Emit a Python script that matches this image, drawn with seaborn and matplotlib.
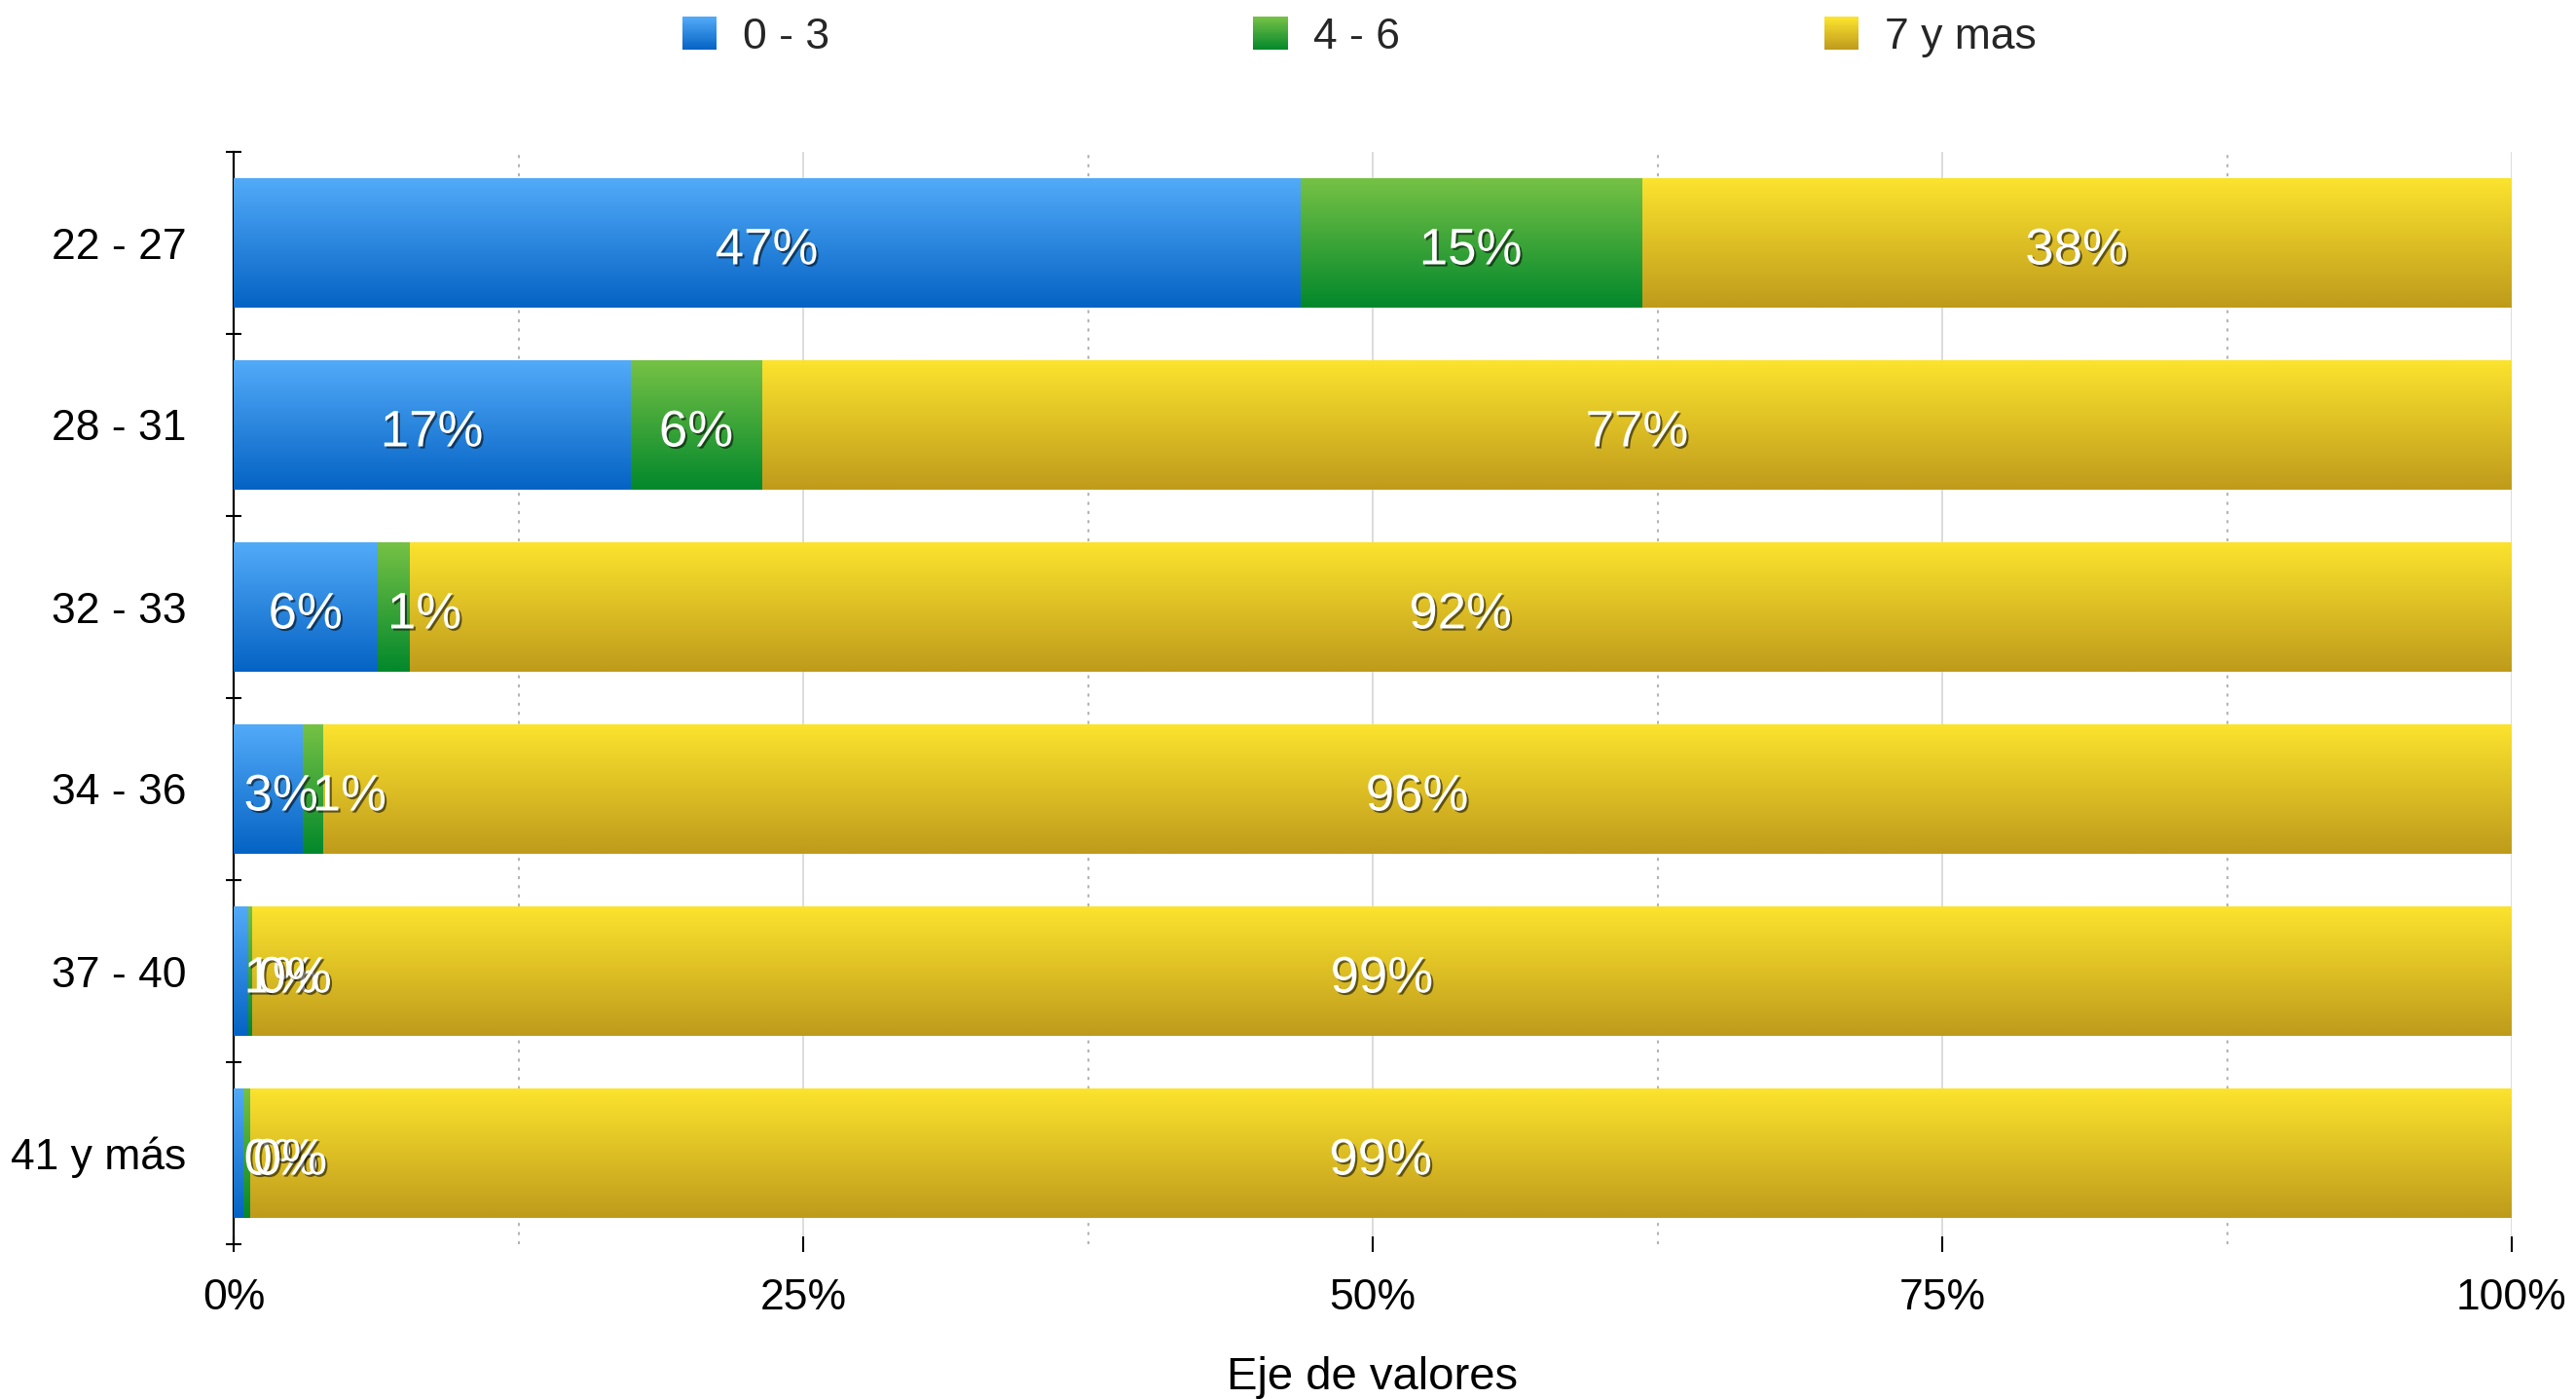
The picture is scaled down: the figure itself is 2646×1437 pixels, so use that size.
import numpy as np
import pandas as pd
import matplotlib
matplotlib.use("Agg")
import matplotlib.pyplot as plt
import matplotlib.patheffects as pe
import matplotlib.transforms as mtransforms
import seaborn as sns
from matplotlib.colors import to_rgb
from matplotlib.patches import Patch, Rectangle
from matplotlib.legend_handler import HandlerBase

# Datos
categorias = ['22 - 27', '28 - 31', '32 - 33', '34 - 36', '37 - 40', '41 y más']
serie_0_3 = [46.8, 17.4, 6.3, 3.0, 0.6, 0.4]
serie_4_6 = [15.0, 5.8, 1.4, 0.9, 0.2, 0.3]
serie_7_mas = [38.2, 76.8, 92.3, 96.1, 99.2, 99.3]
nombres = ['0 - 3', '4 - 6', '7 y mas']
x_ticks = [0, 25, 50, 75, 100]

# colores (arriba, abajo) del degradado
colores = {'0 - 3': ('#52aaf8', '#0563c4'),
           '4 - 6': ('#75c145', '#03882c'),
           '7 y mas': ('#fbe32e', '#bf9b1c')}

sns.set_theme(style='white')
plt.rcParams['font.family'] = ['Liberation Sans', 'DejaVu Sans']


def degradado(top, bottom, n=64):
    t = np.linspace(0, 1, n)[:, None]
    g = (1 - t) * np.array(to_rgb(top)) + t * np.array(to_rgb(bottom))
    return g.reshape(n, 1, 3)


class HandlerDegradado(HandlerBase):
    def __init__(self, top, bottom, n=30):
        super().__init__()
        self.top, self.bottom, self.n = top, bottom, n

    def create_artists(self, legend, orig_handle, xdescent, ydescent,
                       width, height, fontsize, trans):
        g = degradado(self.top, self.bottom, self.n)
        arts = []
        for i in range(self.n):
            y0 = -ydescent + height * (self.n - 1 - i) / self.n
            r = Rectangle((-xdescent, y0), width, height / self.n * 1.05,
                          facecolor=g[i, 0], edgecolor='none', transform=trans)
            arts.append(r)
        return arts


df = pd.DataFrame({'cat': categorias, '0 - 3': serie_0_3,
                   '4 - 6': serie_4_6, '7 y mas': serie_7_mas})
df['c1'] = df['0 - 3']
df['c2'] = df['c1'] + df['4 - 6']
df['c3'] = df['c2'] + df['7 y mas']

fig, ax = plt.subplots(figsize=(26.46, 14.37), dpi=100)
fig.subplots_adjust(left=240 / 2646, right=2580 / 2646,
                    top=1 - 156 / 1437, bottom=1 - 1278 / 1437)

# barras apiladas: primero el total, luego las acumuladas
z = 2
for nombre, col in [('7 y mas', 'c3'), ('4 - 6', 'c2'), ('0 - 3', 'c1')]:
    n0 = len(ax.patches)
    sns.barplot(data=df, x=col, y='cat', orient='h', color=colores[nombre][1],
                width=0.71, errorbar=None, ax=ax)
    for p in ax.patches[n0:]:
        x0, w, y0, h = p.get_x(), p.get_width(), p.get_y(), p.get_height()
        ax.imshow(degradado(*colores[nombre]), extent=(x0, x0 + w, y0 + h, y0),
                  aspect='auto', interpolation='bilinear', zorder=z)
        p.set_visible(False)
        z += 1

ax.set_xlim(0, 100)
ax.set_ylim(5.5, -0.5)

# etiquetas de porcentaje (un poco por debajo del centro)
sombra = [pe.withSimplePatchShadow(offset=(1.5, -1.5), shadow_rgbFace='black', alpha=0.55)]
trans_et = mtransforms.offset_copy(ax.transData, fig=fig, y=-8, units='dots')
etiquetas = []
for i in range(len(categorias)):
    izq = 0
    for vals in (serie_0_3, serie_4_6, serie_7_mas):
        v = vals[i]
        t = ax.text(izq + v / 2, i, f'{v:.0f}%', ha='center', va='center',
                    color='white', fontsize=38, path_effects=sombra, zorder=50,
                    transform=trans_et)
        etiquetas.append((t, izq, v))
        izq += v

# ejes
ax.set_xticks(x_ticks)
ax.set_xticklabels([f'{v}%' for v in x_ticks])
ax.set_xticks([12.5, 37.5, 62.5, 87.5], minor=True)
ax.set_yticks(range(len(categorias)))
ax.set_yticklabels(categorias)
ax.set_yticks(np.arange(-0.5, len(categorias), 1), minor=True)
ax.tick_params(axis='x', which='major', bottom=True, direction='inout', length=11,
               width=1.5, pad=20, labelsize=32, colors='black')
ax.tick_params(axis='x', which='minor', bottom=True, length=0)
ax.tick_params(axis='y', which='major', left=True, length=0, pad=35, labelsize=32,
               colors='black')
ax.tick_params(axis='y', which='minor', left=True, direction='inout', length=11.5,
               width=1.5, color='black')
ax.grid(axis='x', which='major', color='#d6d6d6', lw=1.2, ls='-')
ax.grid(axis='x', which='minor', color='#b5b5b5', lw=1.5, ls=(0, (1.5, 3)))
ax.grid(axis='y', visible=False)
ax.set_axisbelow(True)
sns.despine(ax=ax, top=True, right=True, bottom=True, left=False)
ax.spines['left'].set_color('black')
ax.spines['left'].set_linewidth(1.6)
ax.set_xlabel('Eje de valores', fontsize=34, labelpad=28, color='black')
ax.set_ylabel('')

# leyenda con degradado
handles = [Patch(label=n) for n in nombres]
hmap = {h: HandlerDegradado(*colores[n]) for h, n in zip(handles, nombres)}
fig.legend(handles=handles, labels=nombres, handler_map=hmap, loc='center left',
           bbox_to_anchor=(701 / 2646, 1 - 38 / 1437), ncol=3, frameon=False,
           fontsize=32, handlelength=0.79, handleheight=0.79, handletextpad=0.6,
           columnspacing=9.8, borderpad=0, borderaxespad=0)

# etiquetas que no caben en su segmento: alineadas a la izquierda
fig.canvas.draw()
r = fig.canvas.get_renderer()
ancho_ax = ax.get_window_extent(r).width
for t, izq, v in etiquetas:
    if t.get_window_extent(r).width > v / 100 * ancho_ax:
        t.set_ha('left')
        t.set_x(izq + 0.45)

fig.savefig('out.png', dpi=100)
